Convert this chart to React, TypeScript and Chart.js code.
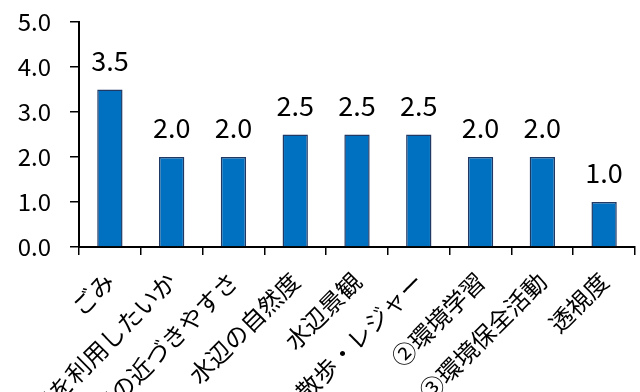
import React, { useEffect, useRef } from "react";
import { Chart, registerables } from "chart.js";

Chart.register(...registerables);

const categories = [
  "ごみ",
  "水辺を利用したいか",
  "水辺の近づきやすさ",
  "水辺の自然度",
  "水辺景観",
  "①散歩・レジャー",
  "②環境学習",
  "③環境保全活動",
  "透視度",
];
const values = [3.5, 2.0, 2.0, 2.5, 2.5, 2.5, 2.0, 2.0, 1.0];
const yMin = 0;
const yMax = 5;
const yStep = 1;

const jpFont = "'Noto Sans CJK JP', sans-serif";

const valueLabels = {
  id: "valueLabels",
  afterDatasetsDraw(chart: any) {
    const { ctx } = chart;
    const meta = chart.getDatasetMeta(0);
    ctx.save();
    ctx.font = `27px ${jpFont}`;
    ctx.fillStyle = "#000";
    ctx.textAlign = "center";
    ctx.textBaseline = "alphabetic";
    meta.data.forEach((bar: any, i: number) => {
      ctx.fillText(values[i].toFixed(1), bar.x, bar.y - 19);
    });
    ctx.restore();
  },
};

export default function App() {
  const ref = useRef<HTMLCanvasElement>(null);
  useEffect(() => {
    if (!ref.current) return;
    const chart = new Chart(ref.current, {
      type: "bar",
      data: {
        labels: categories,
        datasets: [
          {
            data: values,
            backgroundColor: "#0070C0",
            borderColor: "#1F3864",
            borderWidth: 1.5,
            categoryPercentage: 1,
            barPercentage: 0.41,
          },
        ],
      },
      options: {
        animation: false,
        responsive: false,
        maintainAspectRatio: false,
        layout: { padding: { top: 22, right: 5, left: 0, bottom: 0 } },
        plugins: { legend: { display: false }, tooltip: { enabled: false } },
        scales: {
          x: {
            afterFit: (s: any) => {
              s.height = 145;
              s.paddingLeft = 0;
              s.paddingRight = 0;
            },
            grid: {
              offset: true,
              drawOnChartArea: false,
              drawTicks: true,
              tickLength: 8,
              color: "#000",
              lineWidth: 1.5,
            },
            border: { color: "#000", width: 2 },
            ticks: {
              autoSkip: false,
              minRotation: 45,
              maxRotation: 45,
              padding: 12,
              color: "#000",
              font: { family: jpFont, size: 24 },
            },
          },
          y: {
            min: yMin,
            max: yMax,
            afterFit: (s: any) => {
              s.width = 79;
              s.paddingTop = 0;
              s.paddingBottom = 0;
            },
            grid: {
              drawOnChartArea: false,
              drawTicks: true,
              tickLength: 9,
              color: "#000",
              lineWidth: 1.5,
            },
            border: { color: "#000", width: 2 },
            ticks: {
              stepSize: yStep,
              padding: 19,
              color: "#000",
              font: { family: jpFont, size: 24 },
              callback: (v: any) => Number(v).toFixed(1),
            },
          },
        },
      },
      plugins: [valueLabels],
    });
    return () => chart.destroy();
  }, []);
  return (
    <div
      style={{
        position: "absolute",
        left: 0,
        top: 0,
        width: 640,
        height: 392,
        overflow: "hidden",
        background: "#fff",
      }}
    >
      <canvas ref={ref} width={640} height={392} style={{ display: "block" }} />
    </div>
  );
}
